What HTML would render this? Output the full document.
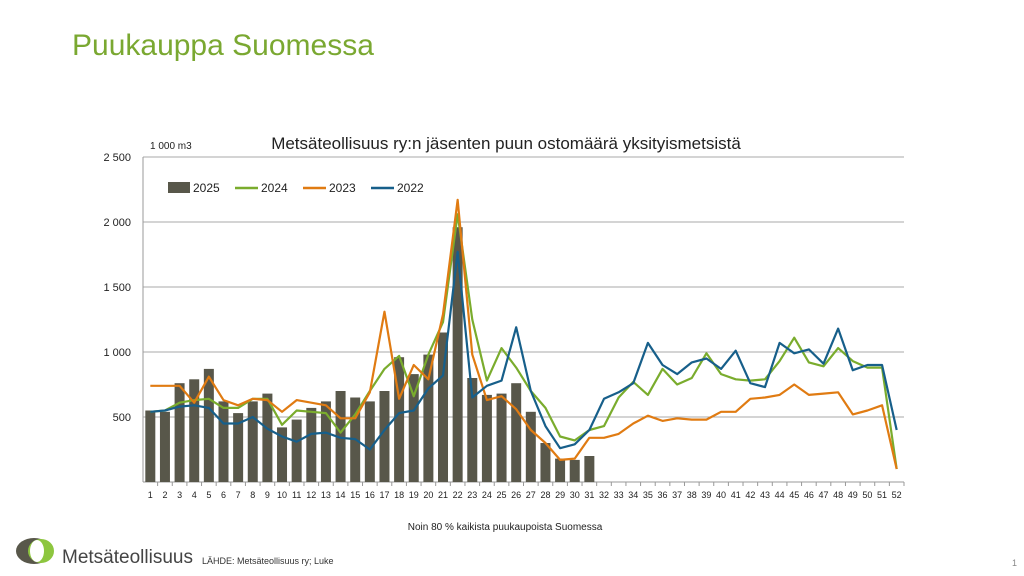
<!DOCTYPE html>
<html><head><meta charset="utf-8"><style>
body{margin:0;width:1024px;height:576px;background:#fff;font-family:"Liberation Sans",sans-serif;overflow:hidden;position:relative}
.t{position:absolute;white-space:nowrap}
</style></head><body>
<div class="t" style="left:72px;top:29px;font-size:30px;color:#7aa831">Puukauppa Suomessa</div>
<svg width="1024" height="576" style="position:absolute;left:0;top:0" id="ch">
<text x="506" y="149" font-size="17" text-anchor="middle" fill="#222">Metsäteollisuus ry:n jäsenten puun ostomäärä yksityismetsistä</text>
<text x="150" y="149" font-size="10" fill="#222">1 000 m3</text>
<text x="505" y="530" font-size="10" text-anchor="middle" fill="#222">Noin 80 % kaikista puukaupoista Suomessa</text>
<g id="grid"></g><g id="bars"></g><g id="lines"></g><g id="xt"></g>
<g>
<rect x="168" y="182" width="22" height="11" fill="#58574a"/>
<text x="193" y="192" font-size="12" fill="#222">2025</text>
<line x1="235" y1="188" x2="258" y2="188" stroke="#7aac2d" stroke-width="2.5"/>
<text x="261" y="192" font-size="12" fill="#222">2024</text>
<line x1="303" y1="188" x2="326" y2="188" stroke="#e07b12" stroke-width="2.5"/>
<text x="329" y="192" font-size="12" fill="#222">2023</text>
<line x1="371" y1="188" x2="394" y2="188" stroke="#175f8a" stroke-width="2.5"/>
<text x="397" y="192" font-size="12" fill="#222">2022</text>
</g>
<g>
<ellipse cx="34" cy="551" rx="18" ry="13" fill="#58574a"/>
<ellipse cx="41" cy="551" rx="13" ry="12" fill="#8dc63f"/>
<ellipse cx="37" cy="551" rx="7" ry="11" fill="#fff"/>
</g>
<text x="62" y="563" font-size="19" fill="#444">Metsäteollisuus</text>
<text x="202" y="564" font-size="9" fill="#333">LÄHDE: Metsäteollisuus ry; Luke</text>
<text x="1012" y="566" font-size="9" fill="#888">1</text>
</svg>
<script>
const weeks=Array.from({length:52},(_,i)=>i+1);
const yTicks=[0,500,1000,1500,2000,2500];
const yTickLabels=["","500","1 000","1 500","2 000","2 500"];
const s2025=[550,540,760,790,870,620,530,620,680,420,480,570,620,700,650,620,700,960,830,980,1150,1960,800,670,680,760,540,300,180,170,200];
const s2024=[540,550,610,630,640,570,570,640,640,440,550,540,530,380,520,700,870,970,660,980,1230,2060,1250,780,1030,880,700,570,350,320,400,430,650,770,670,870,750,800,990,830,790,780,790,930,1110,920,890,1030,930,880,880,100];
const s2023=[740,740,740,610,810,630,590,640,630,540,630,610,590,490,490,690,1310,640,900,790,1290,2170,980,630,660,560,400,300,170,180,340,340,370,450,510,470,490,480,480,540,540,640,650,670,750,670,680,690,520,550,590,100];
const s2022=[540,550,580,590,570,450,450,500,410,350,310,370,380,340,330,250,400,530,550,720,820,1770,650,740,780,1190,700,430,260,290,400,640,690,760,1070,900,830,920,950,870,1010,760,730,1070,990,1020,910,1180,860,900,900,400];
const X0=143,X1=904,Y0=482,Y1=157,MAX=2500;
const step=(X1-X0)/52;
const x=w=>X0+step*(w-0.5);
const y=v=>Y0-(v/MAX)*(Y0-Y1);
const NS="http://www.w3.org/2000/svg";
function mk(t,a,p){const e=document.createElementNS(NS,t);for(const k in a)e.setAttribute(k,a[k]);p.appendChild(e);return e;}
const grid=document.getElementById('grid');
yTicks.forEach((v,i)=>{
 const l=mk('line',{x1:X0,x2:X1,y1:y(v),y2:y(v),stroke:v==0?'#999':'#aaa','stroke-width':1},grid);
 
 
 const t=mk('text',{x:X0-12,y:y(v)+4,'font-size':11,'text-anchor':'end',fill:'#222'},grid);
 t.textContent=yTickLabels[i];
 
 
});
mk('line',{x1:X0,x2:X0,y1:Y1,y2:Y0,stroke:'#999'},grid);
const xt=document.getElementById('xt');
weeks.forEach(w=>{
 mk('line',{x1:X0+step*w,x2:X0+step*w,y1:Y0,y2:Y0+4,stroke:'#999'},xt);
 const t=mk('text',{x:x(w),y:Y0+16,'font-size':9,'text-anchor':'middle',fill:'#222'},xt);
 t.textContent=w;
 
 
});
const bars=document.getElementById('bars');
s2025.forEach((v,i)=>{
 const b=mk('rect',{x:x(i+1)-5,y:y(v),width:10,height:Y0-y(v),fill:'#58574a'},bars);
 
 
});
const lines=document.getElementById('lines');
[[s2024,'#7aac2d','2024'],[s2023,'#e07b12','2023'],[s2022,'#175f8a','2022']].forEach(([s,c,n])=>{
 const p=mk('polyline',{points:s.map((v,i)=>x(i+1)+','+y(v)).join(' '),fill:'none',stroke:c,'stroke-width':2.2,'stroke-linejoin':'round'},lines);
 
 
});
</script>
</body></html>
